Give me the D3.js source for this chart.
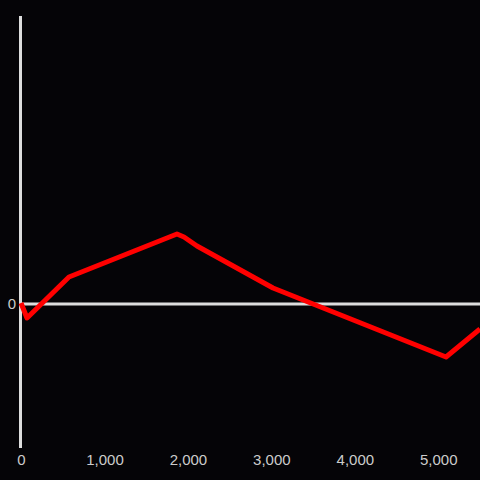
<!DOCTYPE html>
<html>
<head>
<meta charset="utf-8">
<script src="https://cdn.jsdelivr.net/npm/d3@7"></script>
<style>
  html, body { margin: 0; padding: 0; background: #050407; }
  svg { display: block; }
</style>
</head>
<body>
<div class="chart"></div>
<script>
/*data*/
var xValues = [0, 72, 575, 1869, 1953, 2109, 3020, 5093, 5500];
var yValues = [0.01, -0.14, 0.27, 0.70, 0.67, 0.58, 0.16, -0.53, -0.25];
var xTicks = [0, 1000, 2000, 3000, 4000, 5000];
var yTicks = [0];

/*dimensions*/
var width = 480;
var height = 480;
var margin = {top: 16, bottom: 32, left: 21, right: 0};

var xScale = d3.scaleLinear()
  .domain([0, 5500])
  .range([margin.left, width - margin.right]);

var yScale = d3.scaleLinear()
  .domain([-1.44, 2.88])
  .range([height - margin.bottom, margin.top]);

var canvas = d3.select(".chart").append("svg")
  .attr("width", width)
  .attr("height", height);

canvas.append("rect")
  .attr("width", width)
  .attr("height", height)
  .attr("fill", "#050407");

// y axis line
canvas.append("line")
  .attr("x1", margin.left - 0.5).attr("x2", margin.left - 0.5)
  .attr("y1", margin.top).attr("y2", height - margin.bottom)
  .style("stroke", "#dddddd")
  .style("stroke-width", 3);

// zero line
canvas.append("line")
  .attr("x1", margin.left - 2).attr("x2", width)
  .attr("y1", yScale(0)).attr("y2", yScale(0))
  .style("stroke", "#dddddd")
  .style("stroke-width", 3);

// x tick labels
var xAxis = d3.axisBottom(xScale)
  .tickValues(xTicks)
  .tickSize(0)
  .tickPadding(0)
  .tickFormat(d3.format(","));

var gx = canvas.append("g")
  .attr("transform", "translate(0," + (height - margin.bottom + 6) + ")")
  .call(xAxis);
gx.select(".domain").remove();
gx.selectAll("text")
  .style("fill", "#cccccc")
  .style("font-family", "'Liberation Sans', Arial, sans-serif")
  .style("font-size", "15px");

// y tick labels
var yAxis = d3.axisLeft(yScale)
  .tickValues(yTicks)
  .tickSize(0)
  .tickPadding(5)
  .tickFormat(d3.format("d"));

var gy = canvas.append("g")
  .attr("transform", "translate(" + margin.left + ",0)")
  .call(yAxis);
gy.select(".domain").remove();
gy.selectAll("text")
  .style("fill", "#cccccc")
  .style("font-family", "'Liberation Sans', Arial, sans-serif")
  .style("font-size", "15px");

// the line
var line = d3.line()
  .x(function(d, i){ return xScale(xValues[i]); })
  .y(function(d, i){ return yScale(yValues[i]); });

canvas.append("path")
  .datum(yValues)
  .attr("d", line)
  .attr("fill", "none")
  .style("stroke", "#ff0000")
  .style("stroke-width", 5)
  .style("stroke-linejoin", "round");
</script>
</body>
</html>
